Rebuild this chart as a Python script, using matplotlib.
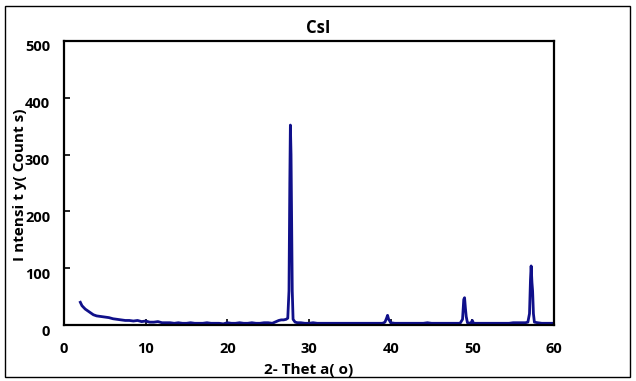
import matplotlib
matplotlib.use("Agg")
import matplotlib.pyplot as plt
import matplotlib.transforms as mtransforms
from matplotlib.patches import Rectangle

plt.rcParams['font.family'] = ['Open Sans', 'DejaVu Sans']

title = "CsI"
xlabel = "2- Thet a( o)"
ylabel = "I ntensi t y( Count s)"
xticks = [0, 10, 20, 30, 40, 50, 60]
yticks = [0, 100, 200, 300, 400, 500]

two_theta = [2.0, 2.2, 2.4, 2.6, 2.8, 3.0, 3.3, 3.6, 4.0, 4.5, 5.0, 5.5, 6.0, 6.5,
             7.0, 7.5, 8.0, 8.5, 9.0, 9.5, 10.0, 10.5, 11.0, 11.5, 12.0, 12.5, 13.0,
             13.5, 14.0, 14.5, 15.0, 15.5, 16.0, 16.5, 17.0, 17.5, 18.0, 18.5, 19.0,
             19.5, 20.0, 20.5, 21.0, 21.5, 22.0, 22.5, 23.0, 23.5, 24.0, 24.5, 25.0,
             25.5, 26.0, 26.3, 26.6, 26.9, 27.2, 27.4, 27.55, 27.65, 27.72, 27.8,
             27.88, 27.95, 28.05, 28.3, 28.6, 29.0, 29.5, 30.0, 30.5, 31.0, 31.5,
             32.0, 32.5, 33.0, 33.5, 34.0, 34.5, 35.0, 35.5, 36.0, 36.5, 37.0, 37.5,
             38.0, 38.5, 39.0, 39.3, 39.5, 39.62, 39.75, 39.85, 40.0, 40.5, 41.0,
             41.5, 42.0, 42.5, 43.0, 43.5, 44.0, 44.5, 45.0, 45.5, 46.0, 46.5, 47.0,
             47.5, 48.0, 48.5, 48.8, 48.95, 49.05, 49.15, 49.25, 49.4, 49.8, 50.0,
             50.15, 50.5, 51.0, 51.5, 52.0, 52.5, 53.0, 53.5, 54.0, 54.5, 55.0, 55.5,
             56.0, 56.5, 56.8, 57.0, 57.12, 57.2, 57.3, 57.38, 57.48, 57.6, 58.0,
             58.5, 59.0, 59.5, 60.0]
counts = [40, 34, 31, 28, 26, 24, 21, 18, 16, 15, 14, 13, 11, 10,
          9, 8, 8, 7, 8, 6, 7, 5, 5, 6, 4, 4, 4,
          3, 4, 3, 3, 4, 3, 3, 3, 4, 3, 3, 3,
          2, 4, 3, 3, 4, 3, 3, 4, 3, 3, 4, 4,
          3, 6, 8, 9, 9, 10, 12, 60, 250, 352, 300,
          180, 60, 10, 5, 4, 4, 3, 3, 4, 3, 3,
          3, 3, 3, 3, 3, 3, 3, 3, 3, 3, 3, 3,
          3, 3, 3, 5, 12, 17, 10, 8, 4, 3, 3,
          3, 3, 3, 3, 3, 3, 4, 3, 3, 3, 3, 3,
          3, 3, 3, 10, 45, 48, 30, 15, 4, 3, 8,
          3, 3, 3, 3, 3, 3, 3, 3, 3, 3, 4, 4,
          4, 4, 5, 20, 80, 104, 75, 60, 20, 5, 4,
          3, 3, 3, 3]

fig = plt.figure(figsize=(6.36, 3.81), dpi=100)
ax = fig.add_axes([64/636, 1 - 325/381, (554-64)/636, (325-41)/381])
ax.plot(two_theta, counts, color='#10108a', lw=2.0)
ax.set_xlim(0, 60)
ax.set_ylim(0, 500)
ax.set_xticks(xticks)
ax.set_yticks(yticks)
for s in ax.spines.values():
    s.set_linewidth(1.6)
    s.set_color('black')
ax.tick_params(direction='in', length=4, width=1.2, labelsize=10.5)
ax.tick_params(axis='x', pad=12)
ax.tick_params(axis='y', pad=10)
for lab in ax.get_xticklabels() + ax.get_yticklabels():
    lab.set_fontweight('bold')
off = mtransforms.ScaledTranslation(0, -5/100, fig.dpi_scale_trans)
for lab in ax.get_yticklabels():
    lab.set_transform(lab.get_transform() + off)

fig.text(318/636, 1 - 28/381, title, ha='center', va='center', fontsize=12, fontweight='bold')
fig.text(309/636, 1 - 370/381, xlabel, ha='center', va='center', fontsize=11, fontweight='bold')
fig.text(20/636, 1 - 185/381, ylabel, ha='center', va='center', rotation=90, fontsize=11, fontweight='bold')

fig.patches.append(Rectangle((5/636, 1 - 377/381), (630-5)/636, (377-6)/381,
                             transform=fig.transFigure, fill=False, edgecolor='black', lw=1.0))
fig.savefig('out.png', dpi=100)
